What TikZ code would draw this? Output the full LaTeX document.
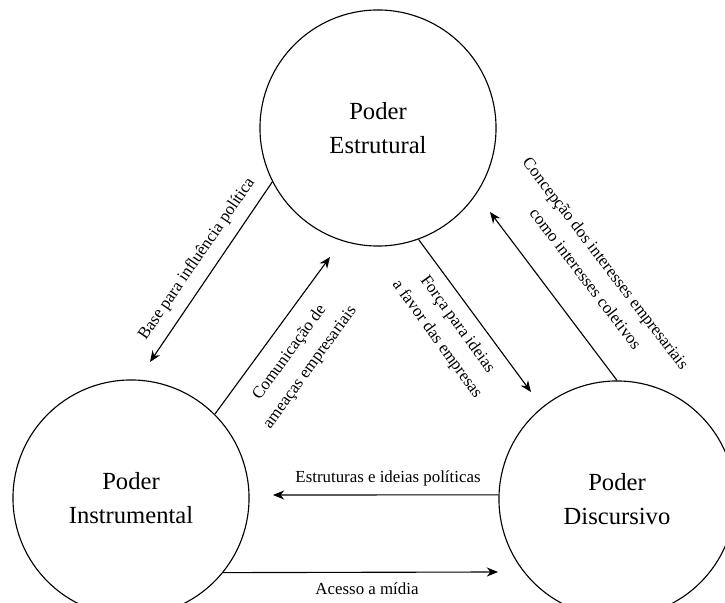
\documentclass[tikz,border=0pt]{standalone}
\usepackage{fontspec}
\setmainfont{Liberation Serif}
\usetikzlibrary{arrows.meta}

\tikzset{
  power/.style={circle, draw, line width=0.8pt, minimum size=5.9cm, align=center,
    font=\fontsize{17.5}{24}\selectfont},
  rel/.style={align=center, font=\fontsize{12}{18}\selectfont},
  link/.style={-{Stealth[length=8pt,width=6.5pt]}, line width=0.8pt}
}

\begin{document}
\begin{tikzpicture}[x=0.025cm, y=-0.025cm]
        \useasboundingbox (0,0) rectangle (725,603);
        % the three kinds of power
        \node[power] (estr) at (378,128) {Poder\\Estrutural};
        \node[power] (instr) at (131,498) {Poder\\Instrumental};
        \node[power] (disc) at (617,499) {Poder\\Discursivo};

        % free ends of the arrows
        \coordinate (e1) at (150,362);
        \coordinate (e2) at (330,257);
        \coordinate (e3) at (531,392);
        \coordinate (e4) at (490,212);
        \coordinate (e5) at (273,495);
        \coordinate (e6) at (498,572);

        \draw[link] (estr.207.6) -- (e1);
        \draw[link] (instr.45) -- (e2);
        \draw[link] (estr.-70) -- (e3);
        \draw[link] (disc.90) -- (e4);
        \draw[link] (disc.178) -- (e5);
        \draw[link] (instr.-39) -- (e6);

        % labels
        \node[rel, rotate=55.5] (l1) at (197,259) {Base para influência política};
        \node[rel, rotate=54] (l2) at (300,360) {Comunicação de\\ameaças empresariais};
        \node[rel, rotate=-54] (l3) at (447,332) {Força para ideias\\a favor das empresas};
        \node[rel, rotate=-52.6] (l4) at (596,271) {Concepção dos interesses empresariais\\como interesses coletivos};
        \node[rel] (l5) at (388,478) {Estruturas e ideias políticas};
        \node[rel] (l6) at (367,589) {Acesso a mídia};
\end{tikzpicture}
\end{document}
